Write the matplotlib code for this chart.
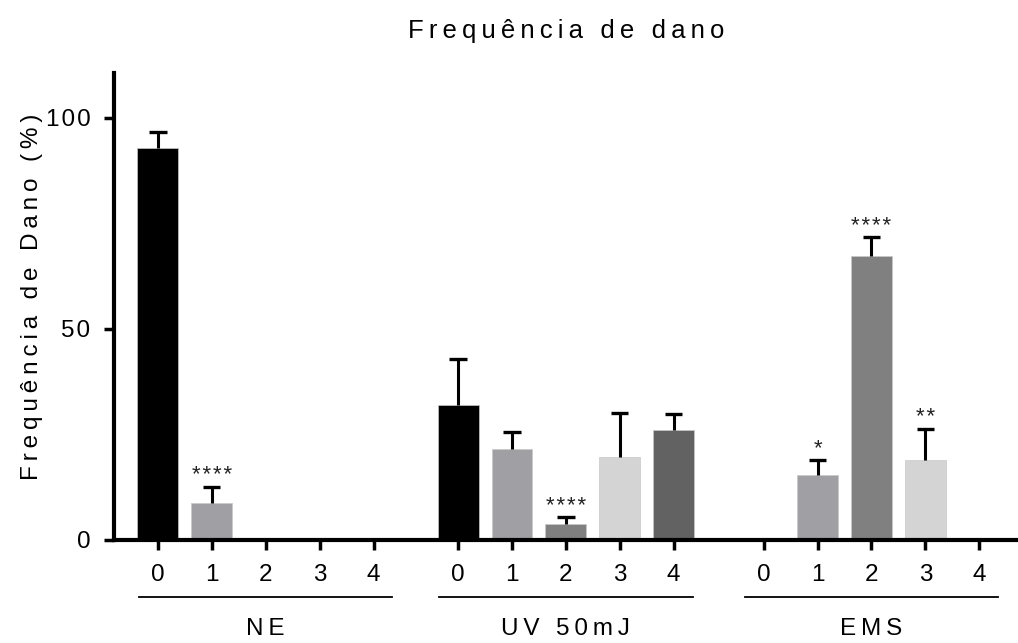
import matplotlib
matplotlib.use("Agg")
import matplotlib.pyplot as plt
import numpy as np

## Data

groups = ["NE", "UV 50mJ", "EMS"]
doses = ["0", "1", "2", "3", "4"]

# mean and upper error (SEM) per dose, one list per group; None = no bar
ne_mean = [92.9, 8.8, None, None, None]
ne_err = [3.8, 3.8, None, None, None]
uv_mean = [32.0, 21.6, 3.9, 19.6, 26.0]
uv_err = [10.9, 4.0, 1.5, 10.5, 3.9]
ems_mean = [None, 15.5, 67.3, 18.9, None]
ems_err = [None, 3.5, 4.4, 7.5, None]

# significance stars: (group index, dose index, label)
stars = [(0, 1, "****"), (1, 2, "****"), (2, 1, "*"), (2, 2, "****"), (2, 3, "**")]

dose_colors = ["#000000", "#A0A0A4", "#808080", "#D4D4D4", "#626262"]

## Helpers

FONT = ["Liberation Sans", "DejaVu Sans"]
plt.rcParams["font.family"] = FONT


def spaced(s, sep="\u2009"):
    # imitate the letter spacing of the original figure
    return sep.join(s)


## Figure

W, H = 1018, 643
fig = plt.figure(figsize=(W / 100, H / 100), dpi=100)
ax = fig.add_axes([114 / W, 103 / H, (W - 114) / W, 467 / H])

group_offsets = [0.0, 5.57, 11.24]
means = [ne_mean, uv_mean, ems_mean]
errs = [ne_err, uv_err, ems_err]
cap = 0.16

tick_pos = []
tick_lab = []
for g in range(len(groups)):
    for d in range(len(doses)):
        x = group_offsets[g] + d
        tick_pos.append(x)
        tick_lab.append(doses[d])
        m = means[g][d]
        if m is None:
            continue
        e = errs[g][d]
        ax.bar(x, m, width=0.76, color=dose_colors[d], edgecolor="#c8c8c8",
               linewidth=0.5, zorder=2)
        # only the upper half of the error bar, as in Prism
        ax.vlines(x, m, m + e, color="black", lw=2.2, zorder=3)
        ax.hlines(m + e, x - cap, x + cap, color="black", lw=2.4, zorder=3)

for g, d, lab in stars:
    x = group_offsets[g] + d
    top = means[g][d] + errs[g][d]
    ax.text(x, top + 2.6, spaced(lab, "\u200a"), ha="center", va="center",
            fontsize=16, color="#222222")

## Axes styling

ax.set_xlim(-0.816, 15.96)
ax.set_ylim(0, 110.6)
ax.set_yticks([0, 50, 100])
ax.set_yticklabels([spaced(str(v), "\u200a") for v in [0, 50, 100]],
                   fontsize=17.5)
ax.set_xticks(tick_pos)
ax.set_xticklabels(tick_lab, fontsize=17.5)
ax.tick_params(axis="both", direction="out", length=7, width=2.5)
ax.tick_params(axis="x", pad=10)
ax.tick_params(axis="y", pad=10)

for side in ["top", "right"]:
    ax.spines[side].set_visible(False)
for side in ["left", "bottom"]:
    ax.spines[side].set_linewidth(3)

ax.set_ylabel(spaced("Frequência de Dano (%)"), fontsize=17.5)
ax.yaxis.set_label_coords(-0.079, 0.52)

## Group lines and labels under the dose ticks

for g in range(len(groups)):
    c = group_offsets[g] + 2
    ax.plot([c - 2.35, c + 2.35], [-13.5, -13.5], color="black", lw=1.3,
            clip_on=False, transform=ax.transData)
    ax.text(c, -21, spaced(groups[g]), ha="center", va="center", fontsize=17.5)

fig.text(566 / W, 1 - 31 / H, spaced("Frequência de dano"), ha="center",
         va="center", fontsize=18.5)

fig.savefig("out.png", dpi=100)
